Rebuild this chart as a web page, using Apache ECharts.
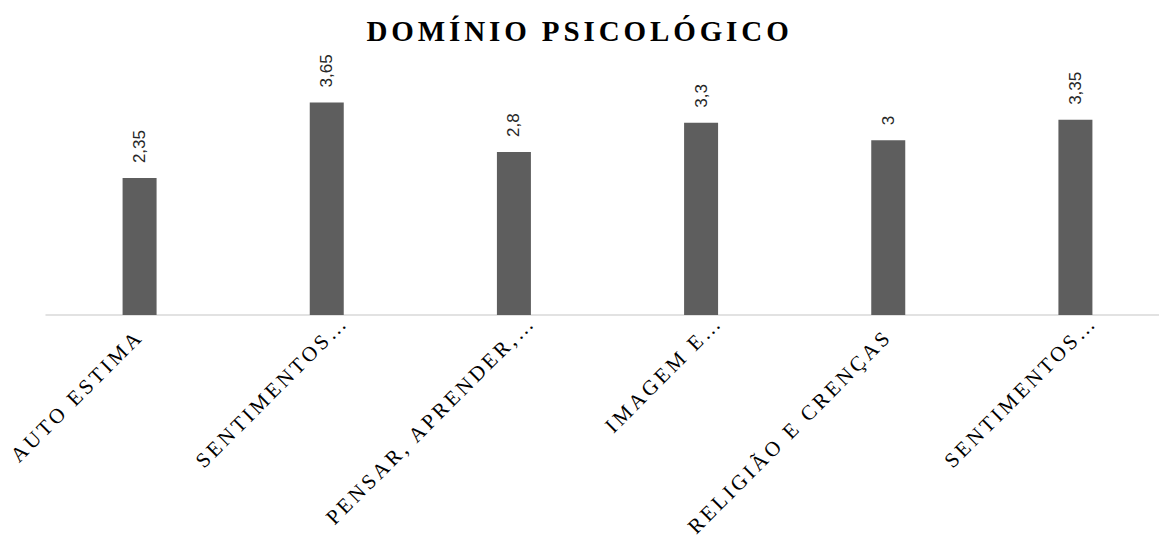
<!DOCTYPE html>
<html>
<head>
<meta charset="utf-8">
<script src="https://cdn.jsdelivr.net/npm/echarts@6/dist/echarts.min.js"></script>
<style>
  html, body { margin: 0; padding: 0; background: #ffffff; }
  #chart { width: 1159px; height: 544px; }
</style>
</head>
<body>
<div id="chart"></div>
<script>
// Psychological domain scores
const categories = [
  'AUTO ESTIMA',
  'SENTIMENTOS…',
  'PENSAR, APRENDER,…',
  'IMAGEM E…',
  'RELIGIÃO E CRENÇAS',
  'SENTIMENTOS…'
];
const scores = [2.35, 3.65, 2.8, 3.3, 3, 3.35];
const titleText = 'DOMÍNIO PSICOLÓGICO';

const TITLE_SIZE = 29;
const LABEL_SIZE = 21;

// Shortened names (ending in an ellipsis) sit a little further out along
// the slanted label direction than the full names.
const categoryItems = categories.map(name => {
  const short = name.endsWith('…');
  return {
    value: name,
    textStyle: {
      verticalAlign: 'top',
      lineHeight: short ? 51 : 46,
      padding: short ? 0 : [0, 23, 0, 0]
    }
  };
});

const chart = echarts.init(document.getElementById('chart'), null, { renderer: 'svg' });

chart.setOption({
  animation: false,
  backgroundColor: '#ffffff',
  title: {
    text: titleText,
    left: 'center',
    top: 11,
    textStyle: {
      fontFamily: 'Liberation Serif',
      fontWeight: 'bold',
      fontSize: TITLE_SIZE,
      color: '#000000'
    }
  },
  grid: {
    left: 46,
    top: 82,
    width: 1123,
    height: 233,
    containLabel: false,
    outerBoundsMode: 'none'
  },
  xAxis: {
    type: 'category',
    data: categoryItems,
    axisLine: { show: true, lineStyle: { color: '#d9d9d9', width: 1.5 } },
    axisTick: { show: false },
    axisLabel: {
      interval: 0,
      rotate: 45,
      margin: -14.5,
      hideOverlap: false,
      fontFamily: 'Liberation Serif',
      fontSize: LABEL_SIZE,
      color: '#000000'
    }
  },
  yAxis: {
    type: 'value',
    min: 0,
    max: 4,
    show: false,
    splitLine: { show: false }
  },
  series: [{
    type: 'bar',
    data: scores,
    barWidth: 34,
    itemStyle: { color: '#5e5e5e' },
    label: {
      show: true,
      position: 'top',
      distance: 15,
      rotate: 90,
      align: 'left',
      verticalAlign: 'middle',
      fontFamily: 'Liberation Sans',
      fontSize: 17,
      color: '#262626',
      formatter: p => String(p.value).replace('.', ',')
    }
  }]
});

// Expanded character spacing for the title and the category labels
function applySpacing() {
  document.querySelectorAll('#chart svg text').forEach(t => {
    const fs = parseFloat(getComputedStyle(t).fontSize);
    if (fs === TITLE_SIZE) t.style.letterSpacing = '3.9px';
    else if (fs === LABEL_SIZE) t.style.letterSpacing = '3.3px';
  });
}
applySpacing();
chart.on('finished', applySpacing);
</script>
</body>
</html>
